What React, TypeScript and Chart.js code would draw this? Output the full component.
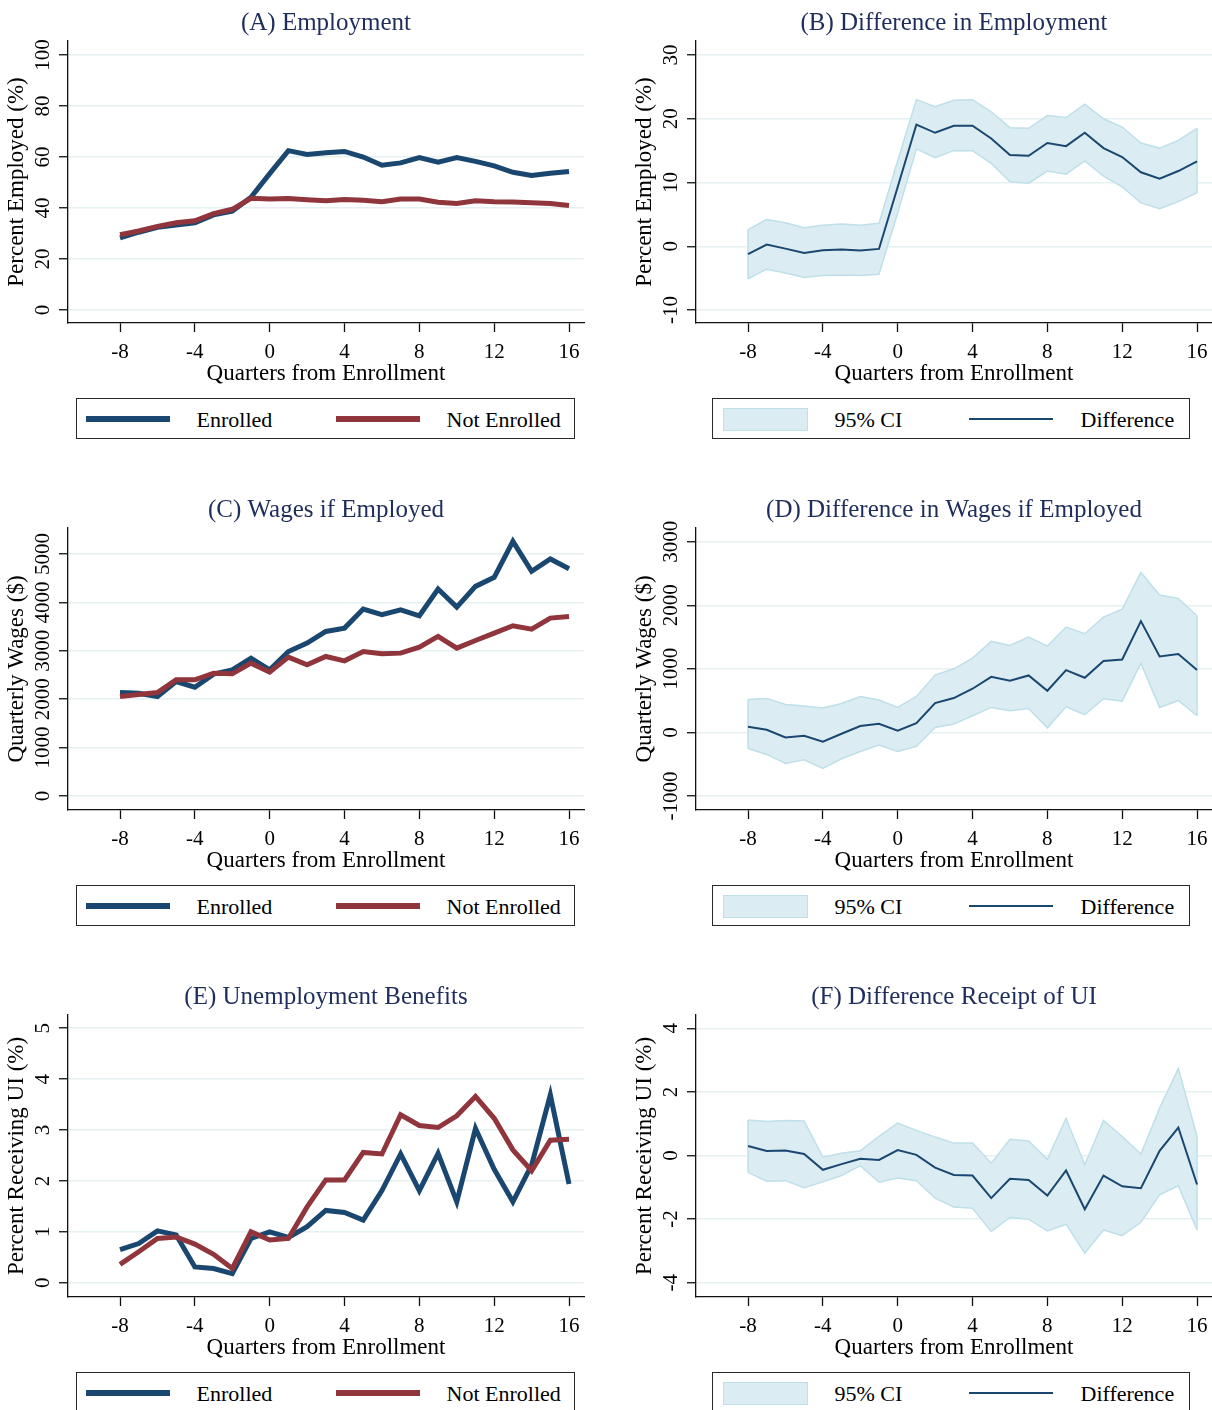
import { useEffect, useRef } from 'react';
import { Chart, registerables } from 'chart.js';

Chart.register(...registerables);

// Quarters relative to enrollment (x axis)
const quarters = [-8, -7, -6, -5, -4, -3, -2, -1, 0, 1, 2, 3, 4, 5, 6, 7, 8, 9, 10, 11, 12, 13, 14, 15, 16];
const xTickValues = [-8, -4, 0, 4, 8, 12, 16];

// (A) Employment, percent employed
const empEnrolled = [28.3, 30.5, 32.4, 33.3, 34.2, 37.3, 38.8, 44.2, 53.5, 62.5, 61.0, 61.7, 62.2, 60.0, 56.8, 57.7, 59.8, 58.0, 59.8, 58.3, 56.5, 54.0, 52.8, 53.6, 54.3];
const empNotEnrolled = [29.5, 31.0, 32.8, 34.2, 35.0, 37.8, 39.5, 43.8, 43.5, 43.7, 43.2, 42.8, 43.3, 43.0, 42.5, 43.5, 43.5, 42.3, 41.8, 42.8, 42.5, 42.4, 42.1, 41.8, 41.0];
const empTicks = [0, 20, 40, 60, 80, 100];

// (B) Difference in employment with 95% CI
const empDiff = [-1.25, 0.26, -0.37, -1.05, -0.63, -0.52, -0.68, -0.42, 9.3, 19.1, 17.8, 18.9, 18.9, 16.9, 14.3, 14.2, 16.2, 15.7, 17.8, 15.4, 14.0, 11.6, 10.6, 11.8, 13.3];
const empDiffUpper = [2.6, 4.2, 3.7, 2.9, 3.3, 3.5, 3.3, 3.6, 13.4, 23.0, 21.9, 22.9, 23.0, 21.1, 18.6, 18.5, 20.5, 20.2, 22.3, 20.0, 18.7, 16.2, 15.4, 16.6, 18.5];
const empDiffLower = [-5.1, -3.6, -4.2, -4.9, -4.6, -4.5, -4.6, -4.4, 5.2, 15.3, 13.9, 15.0, 15.0, 13.0, 10.1, 9.9, 11.8, 11.3, 13.4, 11.0, 9.3, 6.8, 5.9, 7.0, 8.4];
const empDiffTicks = [-10, 0, 10, 20, 30];

// (C) Quarterly wages if employed ($)
const wageEnrolled = [2138, 2124, 2055, 2366, 2248, 2517, 2607, 2848, 2607, 2986, 3159, 3400, 3469, 3862, 3745, 3848, 3724, 4276, 3903, 4331, 4517, 5262, 4641, 4897, 4697];
const wageNotEnrolled = [2055, 2097, 2138, 2400, 2400, 2538, 2524, 2745, 2559, 2869, 2710, 2883, 2793, 2986, 2938, 2952, 3076, 3297, 3055, 3214, 3366, 3517, 3448, 3676, 3710];
const wageTicks = [0, 1000, 2000, 3000, 4000, 5000];

// (D) Difference in wages with 95% CI
const wageDiff = [89, 42, -79, -52, -147, -21, 100, 136, 26, 147, 461, 540, 687, 875, 813, 896, 655, 980, 860, 1122, 1148, 1751, 1195, 1232, 980];
const wageDiffUpper = [519, 535, 440, 414, 383, 456, 566, 509, 393, 566, 902, 1001, 1169, 1431, 1368, 1499, 1358, 1657, 1552, 1814, 1940, 2516, 2160, 2107, 1835];
const wageDiffLower = [-252, -346, -488, -430, -566, -414, -299, -199, -299, -220, 79, 131, 262, 393, 341, 377, 73, 404, 278, 530, 493, 1090, 393, 503, 262];
const wageDiffTicks = [-1000, 0, 1000, 2000, 3000];

// (E) Percent receiving unemployment insurance
const uiEnrolled = [0.65, 0.77, 1.02, 0.94, 0.31, 0.28, 0.18, 0.87, 1.0, 0.89, 1.1, 1.42, 1.38, 1.23, 1.81, 2.53, 1.81, 2.54, 1.59, 3.03, 2.23, 1.59, 2.31, 3.69, 1.94];
const uiNotEnrolled = [0.36, 0.61, 0.87, 0.9, 0.76, 0.56, 0.28, 1.0, 0.84, 0.87, 1.49, 2.02, 2.02, 2.56, 2.53, 3.3, 3.09, 3.05, 3.28, 3.66, 3.23, 2.61, 2.2, 2.8, 2.82];
const uiTicks = [0, 1, 2, 3, 4, 5];

// (F) Difference in UI receipt with 95% CI
const uiDiff = [0.3, 0.14, 0.16, 0.05, -0.45, -0.27, -0.1, -0.14, 0.17, 0.02, -0.38, -0.61, -0.63, -1.34, -0.73, -0.77, -1.26, -0.47, -1.69, -0.63, -0.97, -1.03, 0.15, 0.88, -0.91];
const uiDiffUpper = [1.12, 1.07, 1.1, 1.09, -0.05, 0.07, 0.15, 0.6, 1.02, 0.79, 0.58, 0.39, 0.39, -0.24, 0.51, 0.46, -0.12, 1.17, -0.29, 1.1, 0.6, 0.05, 1.49, 2.74, 0.6];
const uiDiffLower = [-0.53, -0.81, -0.79, -1.01, -0.83, -0.63, -0.32, -0.84, -0.71, -0.79, -1.34, -1.62, -1.66, -2.39, -1.95, -2.0, -2.37, -2.16, -3.07, -2.34, -2.52, -2.1, -1.24, -0.95, -2.34];
const uiDiffTicks = [-4, -2, 0, 2, 4];

const SERIF = '"Liberation Serif", "Times New Roman", Times, serif';
const NAVY = '#1a476f';
const MAROON = '#90353b';
const TITLE_COLOR = '#1e2d5b';
const BAND_FILL = '#dbedf3';
const BAND_EDGE = '#bfdfe9';
const GRID = '#e6eff2';
const AXIS = '#111111';

const CANVAS_W = 606;
const CANVAS_H = 392;

type PanelSpec = {
  left: number;
  top: number;
  title: string;
  yTitle: string;
  yMin: number;
  yMax: number;
  yTicks: number[];
  kind: 'pair' | 'band';
  a: number[];
  b?: number[];
  upper?: number[];
  lower?: number[];
};

const toPoints = (vals: number[]) => vals.map((v, i) => ({ x: quarters[i], y: v }));

// y tick labels are drawn rotated, reading bottom to top
const rotatedYTicks = {
  id: 'rotatedYTicks',
  afterDraw(chart: any) {
    const scale = chart.scales.y;
    const ctx = chart.ctx;
    ctx.save();
    ctx.font = `21px ${SERIF}`;
    ctx.fillStyle = '#000';
    ctx.textAlign = 'center';
    ctx.textBaseline = 'alphabetic';
    scale.ticks.forEach((t: any) => {
      const y = scale.getPixelForValue(t.value);
      ctx.save();
      ctx.translate(scale.right - 19, y);
      ctx.rotate(-Math.PI / 2);
      ctx.fillText(String(t.value), 0, 0);
      ctx.restore();
    });
    ctx.restore();
  },
};

// closes the confidence band with vertical edges at its first and last quarter
const bandEnds = {
  id: 'bandEnds',
  afterDatasetDraw(chart: any, args: any) {
    const ds = chart.data.datasets;
    if (ds.length < 3 || args.index !== 1) return;
    const x = chart.scales.x;
    const y = chart.scales.y;
    const up = ds[0].data;
    const lo = ds[1].data;
    const ctx = chart.ctx;
    ctx.save();
    ctx.strokeStyle = BAND_EDGE;
    ctx.lineWidth = 1.5;
    [0, up.length - 1].forEach((i) => {
      const px = x.getPixelForValue(up[i].x);
      ctx.beginPath();
      ctx.moveTo(px, y.getPixelForValue(up[i].y));
      ctx.lineTo(px, y.getPixelForValue(lo[i].y));
      ctx.stroke();
    });
    ctx.restore();
  },
};

function buildDatasets(spec: PanelSpec) {
  const line = { pointRadius: 0, tension: 0, fill: false };
  if (spec.kind === 'pair') {
    return [
      { ...line, label: 'Enrolled', data: toPoints(spec.a), borderColor: NAVY, borderWidth: 5, order: 2 },
      { ...line, label: 'Not Enrolled', data: toPoints(spec.b as number[]), borderColor: MAROON, borderWidth: 5, order: 1 },
    ];
  }
  return [
    { ...line, label: 'Upper', data: toPoints(spec.upper as number[]), borderColor: BAND_EDGE, borderWidth: 1.5, backgroundColor: BAND_FILL, fill: '+1', order: 4 },
    { ...line, label: 'Lower', data: toPoints(spec.lower as number[]), borderColor: BAND_EDGE, borderWidth: 1.5, order: 3 },
    { ...line, label: 'Difference', data: toPoints(spec.a), borderColor: NAVY, borderWidth: 2, order: 1 },
  ];
}

function Panel({ spec }: { spec: PanelSpec }) {
  const ref = useRef<HTMLCanvasElement>(null);
  useEffect(() => {
    if (!ref.current) return;
    const chart = new Chart(ref.current, {
      type: 'line',
      data: { datasets: buildDatasets(spec) as any },
      plugins: [rotatedYTicks, bandEnds],
      options: {
        animation: false,
        responsive: false,
        devicePixelRatio: 1,
        events: [],
        layout: { padding: { left: 0, right: 22, top: 0, bottom: 4 } },
        plugins: {
          legend: { display: false },
          tooltip: { enabled: false },
          title: {
            display: true,
            text: spec.title,
            fullSize: false,
            color: TITLE_COLOR,
            font: { family: SERIF, size: 25, weight: 'normal' },
            padding: { top: 8.4, bottom: 2.6 },
          },
        },
        scales: {
          x: {
            type: 'linear',
            min: -10.78,
            max: 16.8,
            bounds: 'data',
            afterBuildTicks: (s: any) => {
              s.ticks = xTickValues.map((v) => ({ value: v }));
            },
            afterFit: (s: any) => {
              s.height = 65;
            },
            grid: { drawOnChartArea: false, drawTicks: true, tickLength: 9, tickColor: AXIS, tickWidth: 1.3 },
            border: { display: true, color: AXIS, width: 1.3 },
            ticks: {
              autoSkip: false,
              maxRotation: 0,
              padding: 7.5,
              color: '#000',
              font: { family: SERIF, size: 21 },
              callback: (v: any) => String(v),
            },
            title: {
              display: true,
              text: 'Quarters from Enrollment',
              color: '#000',
              font: { family: SERIF, size: 23 },
              padding: { top: 0, bottom: 0.5 },
            },
          },
          y: {
            type: 'linear',
            position: 'left',
            min: spec.yMin,
            max: spec.yMax,
            bounds: 'data',
            afterBuildTicks: (s: any) => {
              s.ticks = spec.yTicks.map((v) => ({ value: v }));
            },
            afterFit: (s: any) => {
              s.width = 68;
            },
            grid: { color: GRID, lineWidth: 1.5, drawTicks: true, tickLength: 9, tickColor: AXIS, tickWidth: 1.3 },
            border: { display: true, color: AXIS, width: 1.3 },
            ticks: { display: false },
            title: {
              display: true,
              text: spec.yTitle,
              color: '#000',
              font: { family: SERIF, size: 23 },
              padding: { top: 3.4, bottom: 0 },
            },
          },
        },
      } as any,
    });
    return () => chart.destroy();
  }, [spec]);

  return (
    <div style={{ position: 'absolute', left: spec.left, top: spec.top, width: CANVAS_W, height: CANVAS_H }}>
      <canvas ref={ref} width={CANVAS_W} height={CANVAS_H} style={{ display: 'block', width: CANVAS_W, height: CANVAS_H }} />
    </div>
  );
}

const legendText = {
  position: 'absolute' as const,
  top: 2,
  lineHeight: '38px',
  fontFamily: SERIF,
  fontSize: 22,
  color: '#000',
  whiteSpace: 'nowrap' as const,
};

const legendBox = {
  position: 'absolute' as const,
  height: 41,
  boxSizing: 'border-box' as const,
  border: '1.5px solid #2a2a2a',
  background: '#fff',
};

function PairLegend({ left, top }: { left: number; top: number }) {
  return (
    <div style={{ ...legendBox, left, top, width: 499 }}>
      <div style={{ position: 'absolute', left: 9, top: 16.5, width: 84, height: 6, background: NAVY }} />
      <span style={{ ...legendText, left: 119.5 }}>Enrolled</span>
      <div style={{ position: 'absolute', left: 258.5, top: 16.5, width: 84, height: 6, background: MAROON }} />
      <span style={{ ...legendText, left: 369.5 }}>Not Enrolled</span>
    </div>
  );
}

function BandLegend({ left, top }: { left: number; top: number }) {
  return (
    <div style={{ ...legendBox, left, top, width: 478 }}>
      <div
        style={{
          position: 'absolute',
          left: 9.5,
          top: 8.5,
          width: 85,
          height: 23,
          boxSizing: 'border-box',
          background: BAND_FILL,
          border: `1.5px solid ${BAND_EDGE}`,
        }}
      />
      <span style={{ ...legendText, left: 121.5 }}>95% CI</span>
      <div style={{ position: 'absolute', left: 255.5, top: 18.5, width: 84, height: 2, background: NAVY }} />
      <span style={{ ...legendText, left: 367.5 }}>Difference</span>
    </div>
  );
}

const panels: PanelSpec[] = [
  { left: 0, top: 0, title: '(A) Employment', yTitle: 'Percent Employed (%)', yMin: -5.1, yMax: 105.5, yTicks: empTicks, kind: 'pair', a: empEnrolled, b: empNotEnrolled },
  { left: 628, top: 0, title: '(B) Difference in Employment', yTitle: 'Percent Employed (%)', yMin: -12.04, yMax: 32.2, yTicks: empDiffTicks, kind: 'band', a: empDiff, upper: empDiffUpper, lower: empDiffLower },
  { left: 0, top: 487, title: '(C) Wages if Employed', yTitle: 'Quarterly Wages ($)', yMin: -289, yMax: 5537, yTicks: wageTicks, kind: 'pair', a: wageEnrolled, b: wageNotEnrolled },
  { left: 628, top: 487, title: '(D) Difference in Wages if Employed', yTitle: 'Quarterly Wages ($)', yMin: -1220, yMax: 3215, yTicks: wageDiffTicks, kind: 'band', a: wageDiff, upper: wageDiffUpper, lower: wageDiffLower },
  { left: 0, top: 974, title: '(E) Unemployment Benefits', yTitle: 'Percent Receiving UI (%)', yMin: -0.28, yMax: 5.26, yTicks: uiTicks, kind: 'pair', a: uiEnrolled, b: uiNotEnrolled },
  { left: 628, top: 974, title: '(F) Difference Receipt of UI', yTitle: 'Percent Receiving UI (%)', yMin: -4.45, yMax: 4.42, yTicks: uiDiffTicks, kind: 'band', a: uiDiff, upper: uiDiffUpper, lower: uiDiffLower },
];

export default function App() {
  return (
    <div style={{ position: 'absolute', left: 0, top: 0, width: 1212, height: 1410, overflow: 'hidden', background: '#fff' }}>
      {panels.map((p, i) => (
        <Panel key={i} spec={p} />
      ))}
      {panels.map((p, i) =>
        p.kind === 'pair' ? (
          <PairLegend key={`l${i}`} left={p.left + 76} top={p.top + 398} />
        ) : (
          <BandLegend key={`l${i}`} left={p.left + 84} top={p.top + 398} />
        )
      )}
    </div>
  );
}
